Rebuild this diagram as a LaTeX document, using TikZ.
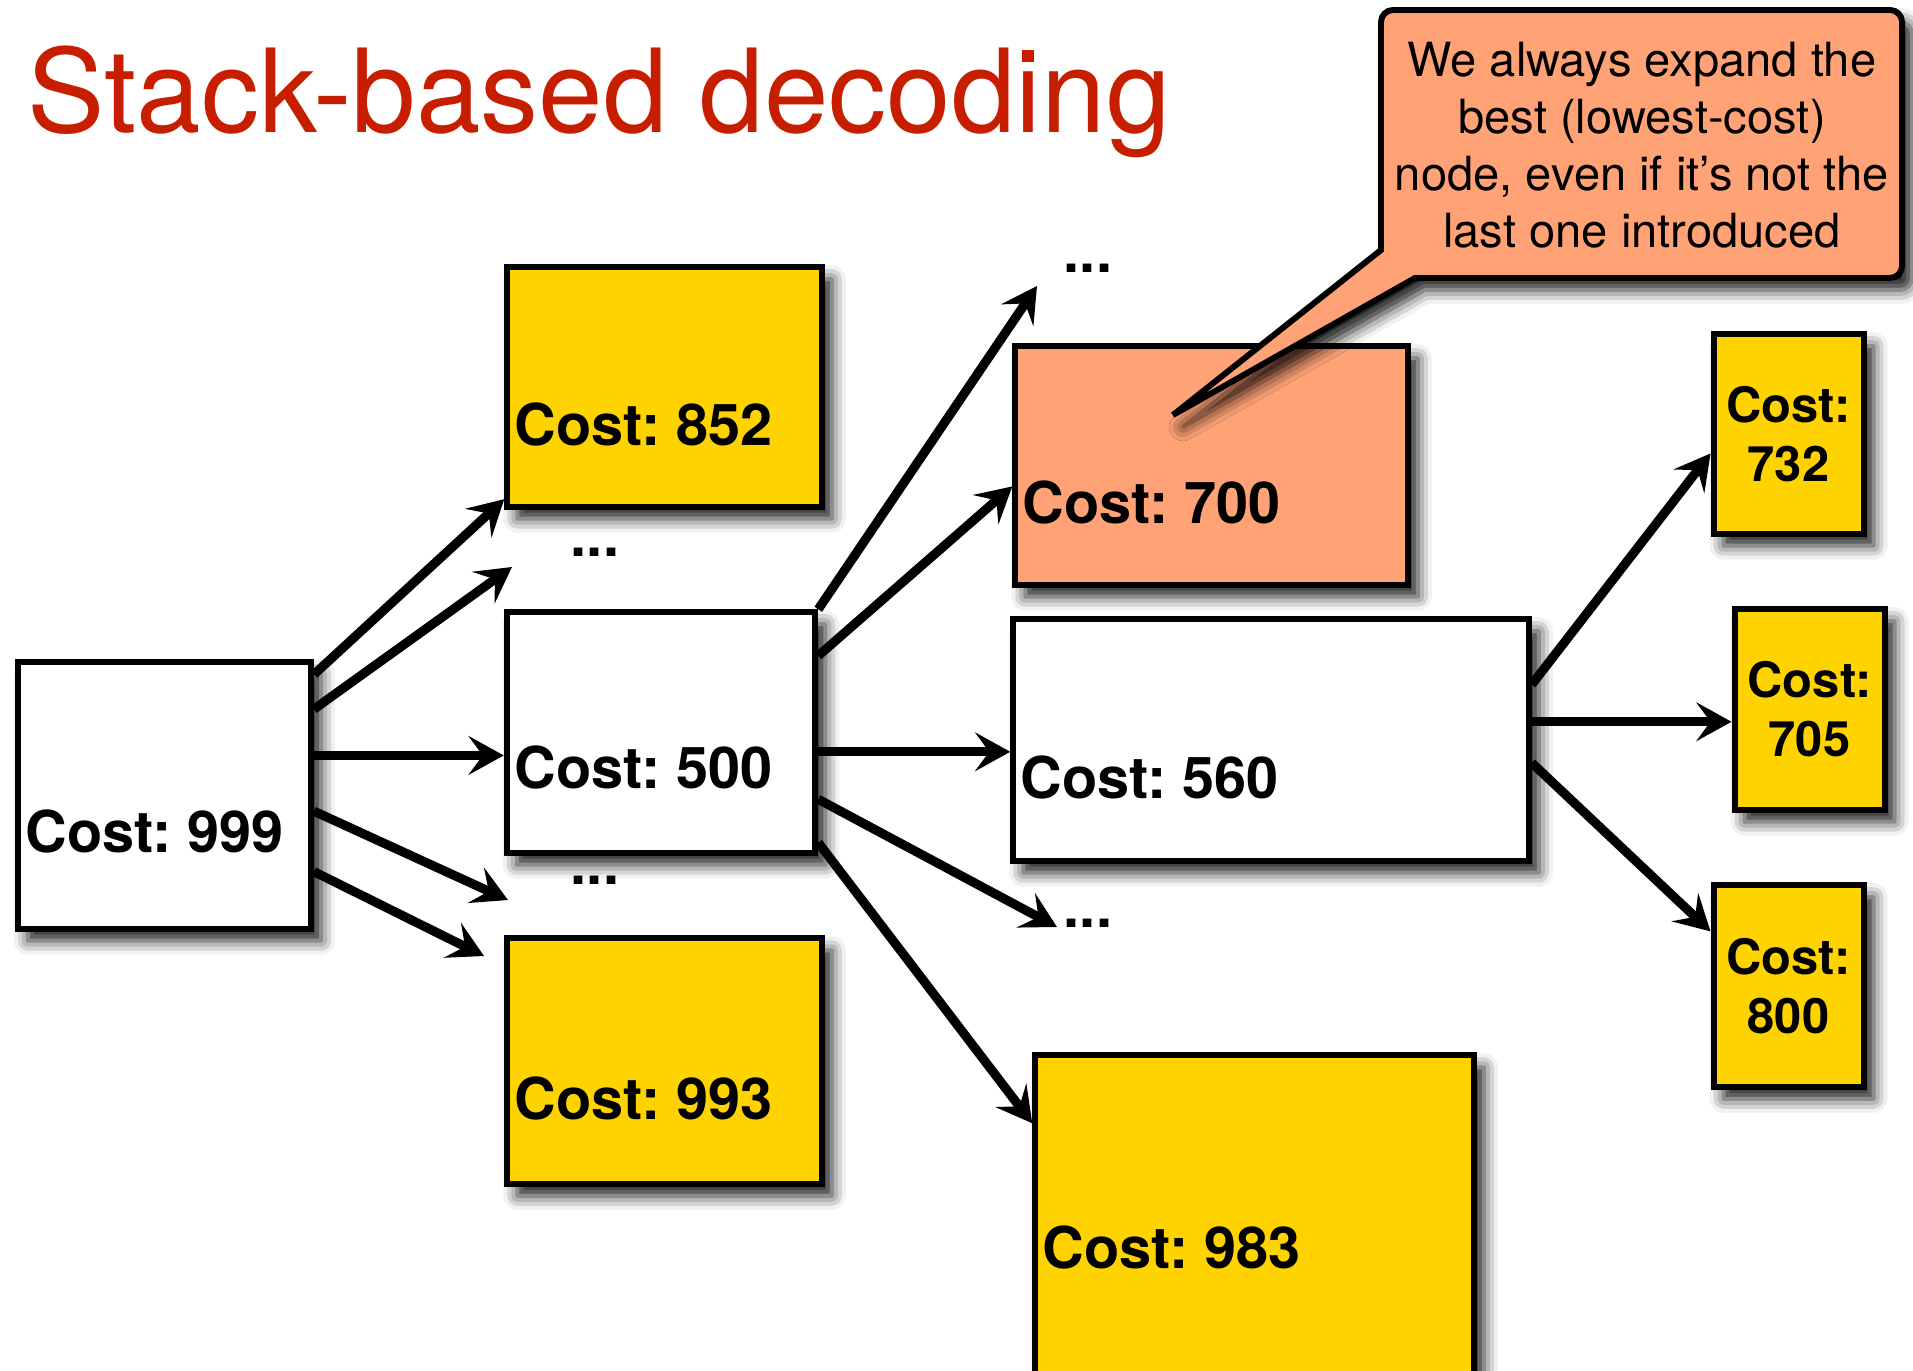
\documentclass[tikz,border=0pt]{standalone}
\usepackage{fontspec}
\setmainfont{TeX Gyre Heros}
\usepackage{xcolor}
\definecolor{jaune}{RGB}{255,211,0}
\definecolor{saumon}{RGB}{255,162,118}
\definecolor{rouge}{RGB}{200,30,0}
\usepackage{tikz}
\usetikzlibrary{arrows.meta,calc,positioning,shadows.blur}
\frenchspacing

\begin{document}
\begin{tikzpicture}[ombre/.style={blur shadow={shadow xshift=0.1cm,shadow yshift=-0.12cm,shadow blur radius=0.14cm,shadow opacity=90}},
  boite/.style={draw=black,line width=1.7pt,rectangle,inner sep=0pt,ombre},
  cout/.style={anchor=base west,inner sep=0pt,font=\fontsize{16.4}{19}\selectfont\bfseries},
  petit/.style={boite,fill=jaune,minimum width=1.5cm,align=center,font=\fontsize{13.9}{16.8}\selectfont\bfseries},
  points/.style={inner sep=0pt,font=\fontsize{16.4}{19}\selectfont\bfseries},
  fleche/.style={-{Stealth[length=10pt,width=11pt,inset=4pt]},line width=2.6pt}]
\useasboundingbox (0,0) rectangle (19.13,13.70);
    \node[anchor=base west,inner sep=0pt,text=rouge,font=\fontsize{33}{40}\selectfont] (titre) at (0.27,12.37) {Stack-based decoding};
    \node[boite,fill=white,minimum width=2.93cm,minimum height=2.665cm] (c999) at (1.645,5.745) {};
    \node[boite,fill=jaune,minimum width=3.145cm,minimum height=2.395cm] (c852) at (6.645,9.83) {};
    \node[boite,fill=white,minimum width=3.085cm,minimum height=2.405cm] (c500) at (6.61,6.375) {};
    \node[boite,fill=jaune,minimum width=3.145cm,minimum height=2.455cm] (c993) at (6.645,3.09) {};
    \node[boite,fill=saumon,minimum width=3.925cm,minimum height=2.385cm] (c700) at (12.115,9.045) {};
    \node[boite,fill=white,minimum width=5.155cm,minimum height=2.415cm] (c560) at (12.71,6.30) {};
    \node[boite,fill=jaune,minimum width=4.385cm,minimum height=3.625cm] (c983) at (12.545,1.335) {};
    \node[petit,minimum height=1.995cm] (c732) at (17.885,9.36) {Cost:\\732};
    \node[petit,minimum height=2.005cm] (c705) at (18.095,6.605) {Cost:\\705};
    \node[petit,minimum height=2.015cm] (c800) at (17.885,3.84) {Cost:\\800};
    \node[cout] (t999) at ([xshift=0.1cm,yshift=0.79cm]c999.south west) {Cost: 999};
    \node[cout] (t852) at ([xshift=0.1cm,yshift=0.64cm]c852.south west) {Cost: 852};
    \node[cout] (t500) at ([xshift=0.1cm,yshift=0.67cm]c500.south west) {Cost: 500};
    \node[cout] (t993) at ([xshift=0.1cm,yshift=0.67cm]c993.south west) {Cost: 993};
    \node[cout] (t700) at ([xshift=0.1cm,yshift=0.64cm]c700.south west) {Cost: 700};
    \node[cout] (t560) at ([xshift=0.1cm,yshift=0.65cm]c560.south west) {Cost: 560};
    \node[cout] (t983) at ([xshift=0.1cm,yshift=-2.16cm]c983.north west) {Cost: 983};
    \node[points] (p1) at (10.88,11.02) {...};
    \node[points] (p2) at (5.95,8.18) {...};
    \node[points] (p3) at (5.95,4.90) {...};
    \node[points] (p4) at (10.88,4.47) {...};
    \coordinate (f2) at (5.12,8.03);
    \coordinate (f4) at (5.08,4.70);
    \coordinate (f5) at (4.84,4.14);
    \coordinate (f6) at (10.37,10.84);
    \coordinate (f9) at (10.57,4.43);
    \draw[fleche] (c999.39) -- (c852.215);
    \draw[fleche] (c999.30) -- (f2);
    \draw[fleche] (c999.15) -- (c999.15 -| c500.west);
    \draw[fleche] (c999.354) -- (f4);
    \draw[fleche] (c999.333) -- (f5);
    \draw[fleche] (c500.north east) -- (f6);
    \draw[fleche] (c500.26) -- (c700.186);
    \draw[fleche] (c500.353) -- (c500.353 -| c560.west);
    \draw[fleche] (c500.337) -- (f9);
    \draw[fleche] (c500.325) -- (c983.153);
    \draw[fleche] (c560.12) -- (c732.194);
    \draw[fleche] (c560.4) -- (c560.4 -| c705.west);
    \draw[fleche] (c560.355) -- (c800.145);
    \filldraw[fill=saumon,draw=black,line width=1.7pt,ombre] (13.81,11.20) -- (13.81,13.48) arc[start angle=180,end angle=90,radius=0.12] -- (18.90,13.60) arc[start angle=90,end angle=0,radius=0.12] -- (19.02,11.04) arc[start angle=0,end angle=-90,radius=0.12] -- (14.15,10.92) -- (11.73,9.55) -- cycle;
    \node[align=center,font=\fontsize{13.4}{16.2}\selectfont] (bulle) at (16.42,12.245) {We always expand the\\best (lowest-cost)\\node, even if it’s not the\\last one introduced};
\end{tikzpicture}
\end{document}
